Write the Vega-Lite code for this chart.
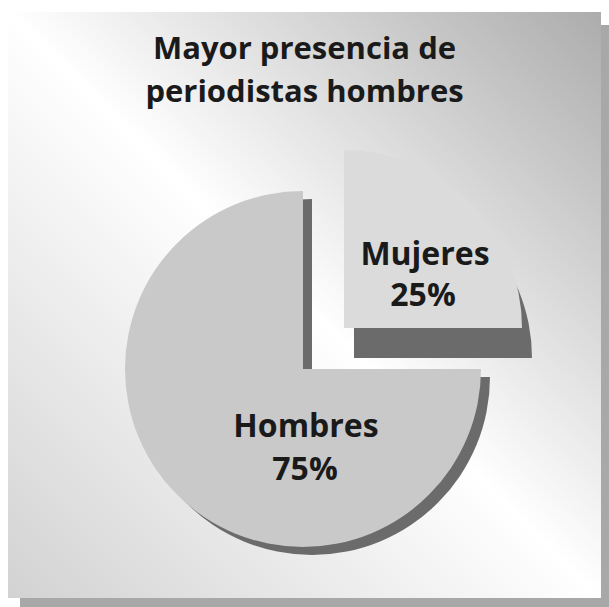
{
  "$schema": "https://vega.github.io/schema/vega-lite/v6.json",
  "width": 609,
  "height": 607,
  "autosize": "none",
  "padding": 0,
  "background": "#ffffff",
  "config": {"view": {"stroke": null}},
  "title": {
    "text": ["Mayor presencia de", "periodistas hombres"],
    "anchor": "middle",
    "frame": "group",
    "orient": "top",
    "offset": -133,
    "font": "Open Sans",
    "fontSize": 31,
    "fontWeight": "bold",
    "color": "#1a1a1a",
    "lineHeight": 43,
    "baseline": "alphabetic"
  },
  "data": {"values": [
    {"slice": "Mujeres", "share": 0.25},
    {"slice": "Hombres", "share": 0.75}
  ]},
  "layer": [
    {
      "data": {"values": [{}]},
      "mark": {"type": "rect", "color": "#a8a8a8", "xOffset": 20, "yOffset": 25, "x2Offset": 0, "y2Offset": 0},
      "encoding": {
        "x": {"value": 0}, "x2": {"value": "width"},
        "y": {"value": 0}, "y2": {"value": "height"}
      }
    },
    {
      "data": {"values": [{}]},
      "mark": {
        "type": "rect",
        "fill": {
          "gradient": "linear",
          "x1": 1, "y1": 0, "x2": 0, "y2": 1,
          "stops": [
            {"offset": 0, "color": "#acacac"},
            {"offset": 0.5, "color": "#ffffff"},
            {"offset": 1, "color": "#d2d2d2"}
          ]
        },
        "xOffset": 8, "x2Offset": -8, "yOffset": 12, "y2Offset": -9
      },
      "encoding": {
        "x": {"value": 0}, "x2": {"value": "width"},
        "y": {"value": 0}, "y2": {"value": "height"}
      }
    },
    {
      "transform": [{"stack": "share", "groupby": [], "sort": [{"field": "slice", "order": "descending"}], "as": ["t0", "t1"]}],
      "mark": {"type": "arc", "radius": 178, "color": "#6b6b6b"},
      "encoding": {
        "theta": {"field": "t0", "type": "quantitative", "scale": {"domain": [0, 1]}},
        "theta2": {"field": "t1"},
        "x": {"field": "slice", "type": "nominal", "scale": {"type": "point", "domain": ["Hombres", "Mujeres"], "range": [312, 354], "padding": 0}, "axis": null},
        "y": {"field": "slice", "type": "nominal", "scale": {"type": "point", "domain": ["Hombres", "Mujeres"], "range": [377, 358], "padding": 0}, "axis": null}
      }
    },
    {
      "transform": [{"stack": "share", "groupby": [], "sort": [{"field": "slice", "order": "descending"}], "as": ["t0", "t1"]}],
      "mark": {"type": "arc", "radius": 178},
      "encoding": {
        "theta": {"field": "t0", "type": "quantitative", "scale": {"domain": [0, 1]}},
        "theta2": {"field": "t1"},
        "color": {"field": "slice", "type": "nominal", "scale": {"domain": ["Hombres", "Mujeres"], "range": ["#c9c9c9", "#dbdbdb"]}, "legend": null},
        "x": {"field": "slice", "type": "nominal", "scale": {"type": "point", "domain": ["Hombres", "Mujeres"], "range": [303, 344], "padding": 0}, "axis": null},
        "y": {"field": "slice", "type": "nominal", "scale": {"type": "point", "domain": ["Hombres", "Mujeres"], "range": [369, 328], "padding": 0}, "axis": null}
      }
    },
    {
      "mark": {"type": "text", "font": "Open Sans", "fontWeight": "bold", "fontSize": 32, "color": "#1a1a1a", "align": "center", "baseline": "alphabetic"},
      "encoding": {
        "text": {"field": "slice"},
        "x": {"field": "slice", "type": "nominal", "scale": {"type": "point", "domain": ["Hombres", "Mujeres"], "range": [306, 425], "padding": 0}, "axis": null},
        "y": {"field": "slice", "type": "nominal", "scale": {"type": "point", "domain": ["Hombres", "Mujeres"], "range": [437, 265], "padding": 0}, "axis": null}
      }
    },
    {
      "mark": {"type": "text", "font": "Open Sans", "fontWeight": "bold", "fontSize": 32, "color": "#1a1a1a", "align": "center", "baseline": "alphabetic"},
      "encoding": {
        "text": {"field": "share", "type": "quantitative", "format": ".0%"},
        "x": {"field": "slice", "type": "nominal", "scale": {"type": "point", "domain": ["Hombres", "Mujeres"], "range": [305, 423], "padding": 0}, "axis": null},
        "y": {"field": "slice", "type": "nominal", "scale": {"type": "point", "domain": ["Hombres", "Mujeres"], "range": [480, 306], "padding": 0}, "axis": null}
      }
    }
  ],
  "resolve": {"scale": {"x": "independent", "y": "independent"}}
}
